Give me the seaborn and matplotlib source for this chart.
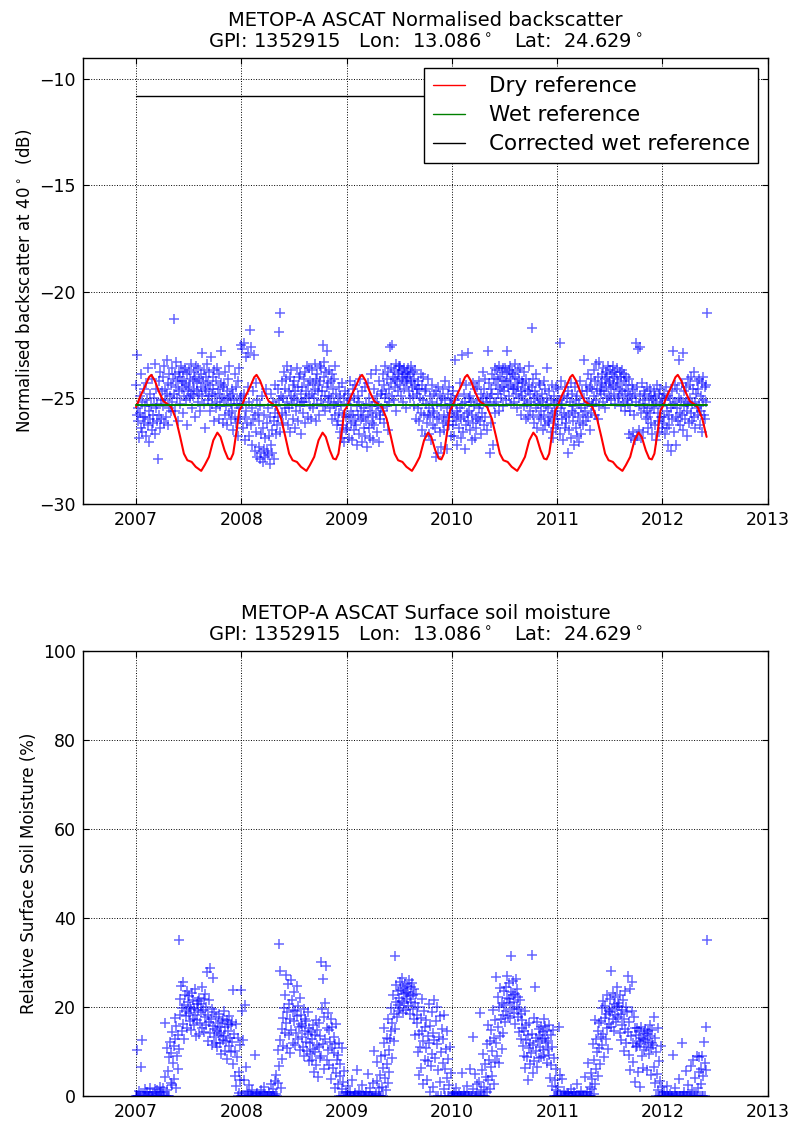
import matplotlib
matplotlib.use("Agg")
import matplotlib.pyplot as plt
import matplotlib.dates as mdates
import numpy as np
import pandas as pd
import seaborn as sns

# ---------------------------------------------------------------------------
# Station / grid point
# ---------------------------------------------------------------------------
gpi = 1352915
lon = 13.086
lat = 24.629

# ---------------------------------------------------------------------------
# Normalised backscatter at 40 deg (dB), one observation every second day
# ---------------------------------------------------------------------------
sigma40_2007 = [
    -24.4, -25.8, -23.0, -26.1, -25.5, -26.9, -24.9, -25.7, -26.4, -23.9, -25.2, -26.6, -25.9, -24.6, -26.2, -25.4,
    -25.9, -24.3, -26.8, -25.1, -26.3, -23.6, -25.6, -27.1, -24.8, -26.0, -25.4, -26.5, -24.1, -25.8,
    -26.2, -25.0, -23.4, -26.7, -25.5, -24.6, -26.1, -25.3, -27.9, -24.2, -25.8, -26.4, -23.8, -25.1, -26.0, -24.7,
    -25.4, -24.0, -26.2, -23.5, -25.1, -24.6, -25.9, -23.2, -24.8, -26.3, -24.3, -25.5, -23.9, -24.9, -25.6,
    -24.4, -23.6, -25.2, -24.1, -21.3, -24.8, -23.9, -25.6, -24.5, -23.3, -25.0, -24.2, -26.1, -23.8, -24.7,
    -24.0, -25.3, -23.5, -24.6, -24.2, -25.7, -23.8, -24.9, -24.3, -23.6, -25.1, -24.4, -26.3, -23.9, -24.7,
    -24.5, -23.7, -25.0, -24.1, -24.8, -23.4, -25.5, -24.2, -24.9, -23.8, -24.6, -25.9, -24.0, -23.5, -24.7,
    -24.3, -25.2, -23.6, -24.8, -24.1, -25.6, -23.9, -24.5, -22.9, -24.9, -24.2, -25.3, -23.7, -24.6, -26.4, -24.0,
    -24.7, -23.4, -25.1, -24.3, -24.9, -23.8, -25.6, -24.4, -23.1, -24.8, -25.3, -24.0, -24.6, -26.1, -23.7,
    -24.9, -25.5, -24.2, -23.6, -25.2, -24.6, -26.0, -23.9, -24.8, -25.4, -24.3, -22.8, -25.0, -24.5, -26.2,
    -25.1, -24.4, -25.8, -23.8, -25.4, -24.7, -26.3, -24.1, -25.0, -25.7, -23.5, -24.9, -26.0, -25.3, -24.6,
    -25.6, -24.8, -26.5, -25.1, -23.9, -25.9, -24.5, -26.2, -25.3, -24.2, -26.8, -25.5, -23.6, -25.0, -26.0, -24.9,
]
sigma40_2008 = [
    -22.5, -25.3, -22.7, -26.4, -24.8, -22.4, -25.9, -27.0, -23.1, -25.6, -26.2, -22.9, -24.5, -26.8, -25.2, -21.8,
    -26.3, -22.6, -25.5, -27.2, -24.7, -26.0, -23.0, -25.8, -27.5, -24.3, -26.6, -25.1, -27.8, -25.7,
    -27.3, -26.1, -27.9, -25.4, -27.6, -26.7, -24.9, -28.0, -26.4, -27.4, -25.8, -27.8, -26.9, -24.6, -27.5, -26.2,
    -27.7, -25.5, -26.8, -28.1, -25.9, -27.2, -24.8, -26.5, -27.6, -25.2, -26.1, -27.9, -25.7, -24.4, -26.7,
    -25.4, -26.3, -24.6, -25.9, -21.9, -25.1, -26.6, -21.0, -24.9, -25.7, -24.2, -26.2, -25.0, -23.8, -25.5,
    -24.6, -25.8, -24.1, -25.2, -23.5, -26.3, -24.7, -25.5, -24.0, -26.6, -24.9, -23.7, -25.3, -24.4, -26.0,
    -25.0, -24.2, -26.4, -24.7, -25.6, -23.6, -25.1, -24.5, -26.1, -24.0, -25.4, -23.9, -24.8, -26.7, -25.2,
    -24.5, -25.7, -24.1, -25.2, -23.8, -26.2, -24.7, -25.0, -23.5, -24.4, -25.9, -24.9, -23.6, -25.4, -24.2, -26.0,
    -24.8, -23.7, -25.5, -24.3, -25.0, -23.4, -24.6, -26.1, -24.1, -25.3, -23.9, -24.7, -25.8, -24.4, -23.5,
    -24.2, -25.1, -23.6, -24.7, -22.5, -25.4, -24.0, -23.3, -24.9, -25.6, -23.8, -24.5, -22.8, -25.2, -24.3,
    -24.9, -23.7, -25.5, -24.2, -25.0, -26.0, -23.9, -24.6, -25.3, -24.1, -25.8, -23.5, -24.8, -25.4, -26.3,
    -25.2, -26.1, -24.5, -25.7, -26.6, -24.9, -25.4, -26.9, -24.3, -25.8, -26.3, -25.0, -27.1, -24.7, -25.9, -26.5,
]
sigma40_2009 = [
    -25.3, -26.4, -24.8, -25.9, -26.9, -25.1, -24.2, -26.2, -25.6, -27.0, -24.6, -25.8, -26.5, -25.0, -26.1, -24.4,
    -26.3, -25.4, -27.2, -24.9, -25.8, -26.7, -25.2, -24.1, -26.0, -25.6, -27.1, -24.7, -25.9, -26.4,
    -25.5, -26.8, -24.5, -26.1, -25.3, -27.3, -25.8, -24.3, -26.4, -25.0, -26.9, -25.6, -23.9, -26.2, -25.4, -27.0,
    -25.9, -24.6, -26.3, -25.2, -23.7, -25.7, -26.6, -24.9, -25.4, -27.1, -24.2, -25.8, -26.0, -24.8, -25.5,
    -24.7, -25.6, -23.9, -24.4, -26.2, -25.0, -23.5, -24.8, -25.4, -24.1, -26.5, -23.8, -24.6, -25.2, -22.6,
    -24.3, -23.6, -24.9, -22.5, -24.0, -25.1, -23.7, -24.5, -24.1, -23.4, -25.6, -24.2, -23.9, -24.7, -23.5,
    -23.8, -24.4, -23.5, -24.9, -24.1, -23.7, -25.2, -24.0, -23.6, -24.6, -23.9, -24.3, -25.5, -23.8, -24.2,
    -24.0, -23.6, -24.7, -23.9, -25.0, -24.2, -23.5, -24.5, -23.8, -24.9, -24.1, -25.4, -23.7, -24.4, -26.0, -24.6,
    -24.8, -25.5, -24.2, -26.1, -24.6, -25.0, -23.9, -25.7, -24.4, -26.5, -25.1, -24.0, -25.8, -26.8, -24.7,
    -25.3, -24.6, -26.2, -25.8, -24.1, -25.5, -26.7, -24.9, -25.9, -27.0, -24.4, -25.2, -26.3, -25.6, -24.8,
    -25.7, -26.4, -24.7, -27.8, -25.3, -26.0, -24.5, -27.6, -25.9, -24.9, -26.6, -25.4, -27.3, -25.0, -26.2,
    -24.6, -25.8, -26.5, -25.1, -24.2, -26.1, -25.5, -27.4, -24.8, -25.9, -26.3, -24.5, -25.3, -26.8, -25.0, -25.7,
]
sigma40_2010 = [
    -25.4, -26.3, -24.7, -25.9, -26.8, -25.1, -23.2, -26.1, -25.6, -27.2, -24.9, -25.8, -26.4, -24.3, -25.5, -26.9,
    -26.0, -23.0, -25.3, -26.6, -24.8, -25.9, -27.4, -25.2, -24.4, -26.3, -25.7, -22.9, -26.1, -25.0,
    -25.6, -26.5, -24.9, -25.2, -27.0, -25.8, -24.3, -26.2, -25.4, -26.9, -24.6, -25.9, -26.4, -25.1, -24.5, -26.0,
    -25.5, -24.2, -26.1, -25.3, -26.7, -24.8, -25.7, -23.8, -25.0, -26.3, -24.6, -25.9, -24.1, -25.2, -26.5,
    -24.9, -22.8, -25.4, -24.3, -27.6, -25.0, -24.6, -26.2, -23.9, -24.8, -27.2, -25.3, -24.1, -23.6, -25.7,
    -24.4, -25.2, -23.7, -24.8, -24.1, -25.6, -23.5, -24.6, -24.0, -25.0, -23.8, -24.5, -25.4, -23.6, -24.2,
    -24.7, -23.6, -24.2, -25.1, -23.9, -22.8, -24.5, -23.7, -24.9, -24.1, -23.5, -25.3, -24.4, -23.8, -24.6,
    -23.9, -24.6, -25.2, -24.0, -23.4, -24.8, -24.3, -25.5, -23.7, -24.5, -24.1, -25.0, -23.6, -24.7, -25.8, -24.2,
    -24.9, -24.3, -25.4, -23.8, -25.1, -24.6, -26.0, -24.1, -25.3, -24.7, -25.9, -24.4, -23.5, -25.6, -24.8,
    -25.2, -24.5, -21.7, -25.8, -24.1, -26.2, -25.0, -24.7, -25.5, -23.9, -26.4, -24.9, -25.3, -24.3, -25.9,
    -25.1, -24.4, -26.0, -25.6, -24.8, -26.5, -25.2, -24.2, -25.8, -26.3, -24.6, -25.4, -23.6, -25.0, -26.1,
    -25.5, -26.2, -24.7, -25.9, -26.6, -25.1, -24.4, -25.7, -26.9, -25.3, -24.9, -26.0, -25.6, -24.5, -26.4, -25.2,
]
sigma40_2011 = [
    -25.8, -24.6, -26.3, -25.1, -22.4, -26.7, -25.5, -24.2, -26.0, -25.3, -27.0, -24.9, -25.7, -26.4, -24.5, -25.9,
    -26.2, -25.0, -27.6, -24.7, -25.8, -26.5, -25.2, -24.3, -26.9, -25.6, -24.8, -26.1, -25.4, -27.2,
    -25.7, -24.5, -26.4, -25.1, -26.8, -24.9, -25.9, -27.1, -25.3, -24.2, -26.2, -25.5, -26.7, -24.7, -25.8, -26.3,
    -25.0, -23.2, -25.6, -24.4, -26.1, -25.3, -24.7, -25.9, -23.9, -25.2, -26.5, -24.5, -25.7, -24.1, -25.4,
    -24.6, -25.3, -23.7, -24.9, -25.8, -24.2, -23.4, -25.1, -24.6, -26.0, -24.0, -23.3, -25.4, -24.7, -24.3,
    -24.8, -23.9, -24.4, -25.2, -23.6, -24.7, -24.1, -25.5, -23.8, -24.5, -24.0, -25.0, -23.5, -24.3, -24.9,
    -24.2, -23.7, -24.6, -25.1, -23.9, -24.4, -23.5, -24.8, -24.0, -25.3, -23.8, -24.5, -24.1, -23.6, -25.0,
    -24.3, -24.9, -23.8, -24.6, -25.4, -24.0, -23.7, -24.7, -25.2, -24.2, -23.9, -24.8, -25.6, -24.4, -24.0, -25.1,
    -24.7, -25.3, -24.1, -26.7, -24.9, -25.6, -26.9, -24.4, -25.0, -26.6, -24.6, -25.8, -27.0, -24.8, -25.2,
    -22.4, -26.8, -24.5, -22.7, -25.4, -26.5, -24.9, -22.6, -25.7, -26.9, -24.3, -25.1, -26.6, -25.5, -24.7,
    -25.3, -24.8, -26.0, -25.6, -24.5, -25.9, -26.4, -25.0, -24.6, -25.7, -26.2, -24.9, -25.4, -26.7, -25.1,
    -24.7, -25.5, -26.3, -24.9, -27.0, -25.2, -24.4, -26.1, -25.7, -24.8, -26.6, -25.3, -24.6, -25.9, -26.4, -25.0,
]
sigma40_2012 = [
    -25.4, -26.2, -24.8, -25.9, -26.7, -25.1, -24.5, -26.4, -25.6, -27.2, -24.9, -25.8, -26.3, -25.0, -27.5, -25.5,
    -24.7, -26.0, -25.3, -22.8, -26.6, -25.2, -24.4, -25.9, -27.2, -25.5, -24.6, -26.1, -25.0, -23.2, -25.7,
    -26.3, -25.1, -24.3, -25.8, -22.9, -26.5, -25.4, -24.7, -26.0, -25.2, -24.5, -26.8, -25.6, -24.1, -25.3, -26.2,
    -25.0, -24.4, -25.7, -24.0, -26.1, -25.3, -24.6, -25.9, -23.8, -25.2, -26.4, -24.8, -25.5, -24.2, -25.8,
    -24.6, -25.4, -24.1, -26.3, -24.9, -25.6, -24.3, -26.6, -25.1, -24.0, -25.8, -24.5, -26.0, -25.2, -24.4, -21.0,
]

# ---------------------------------------------------------------------------
# Relative surface soil moisture (%), same observation days
# ---------------------------------------------------------------------------
ssm_2007 = [
    0, 0, 10.4, 0, 0, 1.2, 0, 0, 6.6, 0, 0, 12.6, 0, 0, 0, 1.5,
    0, 0, 0, 0.8, 0, 0, 0, 0, 0, 1.9, 0, 0, 0, 0,
    0, 0, 1.6, 0, 0, 0, 1.3, 0, 0, 0, 0, 2.1, 0, 0, 0.9, 0,
    0, 1.8, 0, 0, 16.4, 4.2, 0, 10.8, 1.4, 0, 5.6, 8.7, 0, 12.1, 3.0,
    9.6, 2.4, 14.3, 7.5, 11.2, 3.8, 17.5, 12.7, 1.7, 15.8, 8.9, 13.6, 6.1, 10.5, 35.1,
    21.9, 18.3, 24.8, 14.6, 19.7, 25.6, 16.2, 20.4, 12.8, 22.7, 17.9, 19.1, 23.5, 15.3, 21.2,
    18.6, 22.4, 16.9, 20.1, 14.8, 19.5, 23.2, 17.4, 21.6, 15.9, 19.8, 24.1, 18.2, 13.4, 20.7,
    17.1, 21.3, 19.4, 13.9, 22.0, 16.5, 20.6, 18.8, 24.5, 15.2, 19.3, 21.8, 14.4, 17.7, 22.9, 16.0,
    20.0, 27.9, 18.1, 12.3, 16.7, 21.5, 28.7, 14.1, 17.2, 19.6, 11.5, 15.8, 26.5, 13.2, 18.9,
    15.1, 12.0, 17.8, 14.5, 10.9, 16.3, 13.7, 18.5, 11.8, 15.4, 9.5, 14.2, 16.9, 12.6, 17.4,
    13.5, 19.2, 10.2, 15.6, 12.4, 17.0, 8.3, 14.7, 16.1, 11.3, 18.0, 13.0, 15.9, 9.9, 16.6,
    12.2, 7.1, 23.8, 14.0, 4.6, 10.1, 16.2, 2.3, 8.8, 0, 13.1, 5.4, 0.6, 11.4, 3.5, 0,
]
ssm_2008 = [
    23.8, 0, 19.2, 12.6, 0, 3.6, 20.5, 0, 6.6, 0, 1.1, 0, 0, 2.5, 0, 0,
    0, 0, 0, 1.4, 0, 0, 0, 9.2, 0, 0, 0, 0.7, 0, 0,
    0, 0, 0, 0, 1.3, 0, 0, 0, 0, 0, 2.0, 0, 0, 0, 0, 0,
    0, 0, 0.9, 0, 0, 0, 2.8, 0, 0, 1.6, 0, 0, 3.4, 0, 0.5,
    4.8, 0, 2.9, 10.3, 34.2, 6.7, 28.0, 12.5, 1.9, 15.0, 8.4, 17.6, 11.2, 19.8, 14.1,
    22.6, 16.3, 27.3, 10.7, 18.9, 25.1, 13.8, 20.7, 9.6, 17.2, 26.0, 14.9, 21.5, 12.0, 19.4,
    16.8, 23.4, 11.5, 19.1, 14.2, 24.7, 17.9, 12.8, 20.3, 15.5, 22.1, 10.4, 18.3, 16.1, 13.3,
    15.7, 11.1, 19.6, 8.9, 14.6, 17.4, 12.2, 16.9, 10.0, 13.9, 18.8, 7.8, 15.2, 11.9, 9.4, 14.4,
    12.7, 8.1, 15.9, 10.6, 5.3, 13.6, 9.8, 17.1, 6.9, 11.4, 14.8, 4.2, 10.9, 16.4, 8.6,
    13.4, 30.0, 9.1, 19.5, 26.4, 11.7, 6.0, 17.8, 21.0, 12.9, 29.2, 8.2, 15.3, 18.6, 10.3,
    14.9, 7.0, 12.1, 17.3, 3.9, 10.8, 15.6, 6.4, 13.2, 9.7, 1.8, 11.6, 16.2, 5.1, 8.0,
    9.3, 2.6, 12.0, 0, 4.4, 7.3, 0, 1.5, 10.7, 0, 3.1, 0, 5.7, 0, 0, 1.0,
]
ssm_2009 = [
    0, 0, 2.2, 0, 0, 0, 1.0, 0, 0, 3.7, 0, 0, 0, 0, 0.6, 0,
    0, 5.8, 0, 0, 0, 1.2, 0, 0, 0, 0, 2.4, 0, 0, 0,
    0, 0, 0, 0.8, 0, 0, 5.0, 0, 0, 0, 1.7, 0, 0, 0, 0, 2.9,
    0, 0, 10.1, 0, 0.4, 0, 3.3, 7.6, 0, 0, 1.8, 0, 4.7, 0, 8.9,
    2.1, 6.4, 0, 11.8, 15.2, 4.0, 9.3, 1.3, 13.1, 7.2, 3.0, 17.4, 10.4, 5.5, 12.7,
    14.5, 19.7, 8.6, 16.3, 22.8, 12.4, 18.5, 31.5, 15.1, 21.2, 24.9, 17.7, 20.4, 23.6, 19.0,
    22.1, 25.7, 19.8, 23.9, 21.4, 26.6, 18.7, 24.3, 22.9, 20.8, 25.2, 23.1, 19.3, 24.8, 21.7,
    23.4, 20.2, 26.1, 22.4, 18.4, 24.6, 21.1, 25.5, 19.6, 22.6, 17.3, 24.0, 20.9, 13.7, 23.0, 18.1,
    16.5, 9.8, 19.9, 4.8, 13.9, 11.0, 17.6, 6.2, 21.7, 14.6, 2.7, 12.3, 19.2, 8.1, 15.4,
    10.7, 17.0, 3.6, 13.5, 7.9, 20.6, 11.9, 0.9, 15.8, 6.8, 18.9, 9.4, 2.0, 14.2, 12.5,
    21.5, 8.5, 16.8, 0, 11.6, 20.0, 5.9, 0, 13.3, 17.9, 3.2, 9.9, 0, 15.0, 7.4,
    12.8, 1.6, 18.2, 6.0, 0, 10.5, 4.1, 14.7, 0, 8.3, 2.5, 0, 11.1, 0, 5.2, 0,
]
ssm_2010 = [
    0, 0, 0, 0.7, 0, 0, 0, 1.9, 0, 0, 0, 0, 0.5, 0, 0, 0,
    0, 0, 5.2, 0, 0, 1.0, 0, 0, 0, 0, 2.3, 0, 0, 0,
    0, 0, 6.1, 0, 0, 0, 1.5, 13.3, 0, 0, 4.9, 0, 0, 2.6, 0, 0,
    0, 3.1, 0, 18.6, 0, 1.4, 5.8, 0, 9.5, 2.0, 0, 7.2, 0, 4.3, 11.6,
    0.8, 16.0, 3.7, 8.0, 12.4, 1.6, 6.5, 14.8, 10.1, 4.5, 19.3, 2.8, 13.0, 7.7, 17.1,
    11.8, 26.8, 9.1, 22.3, 15.6, 7.4, 19.9, 13.5, 24.2, 17.3, 10.6, 21.0, 14.1, 18.2, 23.7,
    20.5, 16.6, 24.5, 19.2, 22.0, 27.0, 18.0, 21.8, 25.3, 17.5, 20.8, 31.5, 23.3, 19.6, 22.6,
    25.8, 21.2, 18.7, 23.0, 16.2, 26.3, 20.1, 24.0, 17.8, 22.2, 14.4, 19.5, 21.6, 12.9, 18.4, 15.3,
    17.0, 11.3, 14.7, 9.0, 19.0, 6.3, 12.6, 15.9, 8.7, 13.8, 3.5, 10.8, 16.4, 7.1, 12.0,
    9.6, 31.7, 14.0, 5.2, 11.5, 17.5, 7.9, 24.6, 13.1, 10.2, 16.7, 6.6, 12.3, 15.1, 8.5,
    13.7, 11.0, 15.4, 8.8, 12.7, 14.3, 10.3, 17.2, 9.0, 13.0, 15.8, 11.9, 7.5, 14.6, 10.6,
    12.3, 16.0, 9.3, 4.1, 13.6, 7.0, 11.1, 2.2, 14.9, 0, 8.6, 3.6, 0, 6.1, 1.3, 0,
]
ssm_2011 = [
    0, 2.0, 0, 15.6, 0, 4.7, 0, 0, 3.8, 0, 0, 1.1, 0, 0, 0, 0,
    0, 0, 0.6, 0, 0, 0, 0, 1.5, 0, 0, 0, 0, 0, 0.9,
    0, 0, 0, 0, 0, 2.7, 0, 0, 0, 0, 0, 1.2, 0, 0, 0, 0,
    0, 0, 4.3, 0, 0, 0.8, 0, 7.4, 0, 0, 2.1, 0, 5.2, 0, 1.6,
    3.9, 11.7, 0.5, 8.2, 17.0, 2.6, 12.8, 6.0, 9.8, 14.6, 4.4, 16.3, 10.7, 7.3, 13.2,
    16.8, 11.4, 19.7, 14.0, 21.4, 8.7, 17.6, 20.2, 12.9, 18.5, 15.3, 22.7, 10.5, 19.2, 16.1,
    18.9, 21.8, 15.6, 28.2, 19.6, 17.3, 23.1, 14.5, 20.6, 18.1, 22.2, 16.7, 24.4, 19.9, 21.0,
    17.7, 20.3, 14.2, 22.6, 18.4, 12.5, 19.3, 16.0, 21.5, 10.1, 17.2, 23.6, 15.0, 20.0, 11.8, 18.8,
    14.4, 26.9, 9.2, 16.6, 24.1, 5.8, 13.4, 19.0, 25.7, 7.6, 12.0, 17.8, 3.1, 15.2, 10.9,
    13.8, 11.2, 15.3, 5.5, 12.4, 14.7, 2.0, 11.7, 13.1, 15.6, 9.0, 12.9, 6.4, 14.1, 10.4,
    12.6, 15.0, 11.0, 13.9, 5.8, 14.5, 12.2, 9.5, 16.0, 13.4, 10.7, 4.7, 12.0, 14.8, 11.5,
    17.8, 6.6, 13.0, 2.9, 9.9, 0, 5.0, 15.2, 1.4, 0, 7.8, 3.3, 0, 11.3, 0, 2.0,
]
ssm_2012 = [
    0, 0, 0.8, 0, 0, 0, 0, 2.2, 0, 0, 0, 0, 0, 0.5, 0, 0,
    0, 0, 0, 9.2, 0, 0, 1.7, 0, 0, 0, 0, 0, 3.9, 0, 0,
    0, 0, 11.8, 0, 0, 0, 0.9, 0, 0, 5.6, 0, 0, 0, 0, 2.4, 0,
    0, 0, 6.8, 0, 1.3, 0, 8.2, 0, 0, 4.1, 0, 0, 9.0, 0, 1.9,
    0, 5.3, 8.8, 0, 2.8, 6.1, 0, 9.1, 4.4, 0, 12.2, 7.5, 0, 15.6, 5.9, 35.1,
]

# ---------------------------------------------------------------------------
# Reference values (dB)
# ---------------------------------------------------------------------------
# dry reference: seasonal climatology, day of year -> dB
dry_doy = [0, 16, 30, 45, 53, 65, 80, 95, 111, 122, 138, 153, 166, 178,
           193, 207, 226, 238, 253, 268, 282, 293, 307, 319, 328, 337, 349, 358]
dry_db = [-25.44, -24.89, -24.50, -24.03, -23.92, -24.19, -24.73, -25.16,
          -25.31, -25.44, -25.98, -26.84, -27.63, -27.94, -28.02, -28.25,
          -28.44, -28.17, -27.78, -27.00, -26.64, -26.84, -27.47, -27.86,
          -27.90, -27.63, -26.53, -25.59]
wet_reference = -25.33
corrected_wet_reference = -10.78

years = [2007, 2008, 2009, 2010, 2011, 2012]
sigma_by_year = [sigma40_2007, sigma40_2008, sigma40_2009,
                 sigma40_2010, sigma40_2011, sigma40_2012]
ssm_by_year = [ssm_2007, ssm_2008, ssm_2009, ssm_2010, ssm_2011, ssm_2012]
period_start = pd.Timestamp("2007-01-01")
period_end = pd.Timestamp("2012-06-03")


def obs_dates(year, values):
    return pd.date_range(f"{year}-01-01", periods=len(values), freq="2D")


sigma_df = pd.concat(
    [pd.DataFrame({"date": obs_dates(y, v), "sigma40": v})
     for y, v in zip(years, sigma_by_year)], ignore_index=True)
ssm_df = pd.concat(
    [pd.DataFrame({"date": obs_dates(y, v), "ssm": v})
     for y, v in zip(years, ssm_by_year)], ignore_index=True)

dry_rows = []
for y in years:
    for d, v in zip(dry_doy, dry_db):
        t = pd.Timestamp(f"{y}-01-01") + pd.Timedelta(days=d)
        if t <= period_end:
            dry_rows.append((t, v))
dry_df = pd.DataFrame(dry_rows, columns=["date", "dry"])

wet_df = pd.DataFrame({"date": [period_start, period_end],
                       "wet": [wet_reference, wet_reference],
                       "wet_corr": [corrected_wet_reference, corrected_wet_reference]})

# ---------------------------------------------------------------------------
# Styling
# ---------------------------------------------------------------------------
sns.set_style("ticks")
plt.rcParams.update({
    "font.family": ["DejaVu Sans"],
    "axes.edgecolor": "black",
    "axes.linewidth": 1.0,
    "xtick.direction": "in",
    "ytick.direction": "in",
    "xtick.top": True,
    "ytick.right": True,
    "xtick.major.size": 4.5,
    "ytick.major.size": 4.5,
    "xtick.major.pad": 5,
    "ytick.major.pad": 5,
    "xtick.labelsize": 12.5,
    "ytick.labelsize": 12.5,
    "xtick.color": "black",
    "ytick.color": "black",
    "text.color": "black",
    "axes.labelcolor": "black",
})

fig = plt.figure(figsize=(7.92, 11.21), dpi=100)
fig.patch.set_facecolor("white")
ax1 = fig.add_axes([0.1048, 0.5504, 0.8649, 0.3979])
ax2 = fig.add_axes([0.1048, 0.0223, 0.8649, 0.3970])

subtitle = (f"GPI: {gpi}   Lon:  {lon:.3f}$^\\circ$   Lat:  {lat:.3f}$^\\circ$")

scatter_kw = dict(marker="+", color="blue", s=42, linewidth=1.1, alpha=0.6,
                  legend=False, zorder=2)

# --- backscatter panel -----------------------------------------------------
sns.scatterplot(data=sigma_df, x="date", y="sigma40", ax=ax1, **scatter_kw)
sns.lineplot(data=dry_df, x="date", y="dry", ax=ax1, color="red",
             linewidth=1.5, label="Dry reference", zorder=3)
sns.lineplot(data=wet_df, x="date", y="wet", ax=ax1, color="green",
             linewidth=1.5, label="Wet reference", zorder=3)
sns.lineplot(data=wet_df, x="date", y="wet_corr", ax=ax1, color="black",
             linewidth=1.0, label="Corrected wet reference", zorder=3)
ax1.set_ylim(-30, -9)
ax1.set_yticks([-30, -25, -20, -15, -10])
ax1.set_ylabel("Normalised backscatter at 40$^\\circ$  (dB)", fontsize=12)
ax1.set_title("METOP-A ASCAT Normalised backscatter\n" + subtitle,
              fontsize=14, pad=7)
leg = ax1.legend(loc="upper right", fontsize=15.5, frameon=True,
                 fancybox=False, framealpha=1, edgecolor="black",
                 handlelength=1.5, handletextpad=1.1, borderpad=0.4,
                 labelspacing=0.42, borderaxespad=0.45)
leg.get_frame().set_linewidth(1.0)
for line in leg.get_lines():
    line.set_linewidth(1.0)

# --- soil moisture panel ---------------------------------------------------
sns.scatterplot(data=ssm_df, x="date", y="ssm", ax=ax2, **scatter_kw)
ax2.set_ylim(0, 100)
ax2.set_yticks([0, 20, 40, 60, 80, 100])
ax2.set_ylabel("Relative Surface Soil Moisture (%)", fontsize=12)
ax2.set_title("METOP-A ASCAT Surface soil moisture\n" + subtitle,
              fontsize=14, pad=7)

for ax in (ax1, ax2):
    ax.set_xlim(pd.Timestamp("2006-07-01"), pd.Timestamp("2013-01-01"))
    ax.xaxis.set_major_locator(mdates.YearLocator())
    ax.xaxis.set_major_formatter(mdates.DateFormatter("%Y"))
    ax.set_xlabel("")
    ax.grid(True, color="black", linestyle=":", linewidth=0.7)
    ax.set_axisbelow(True)
    ax.set_facecolor("white")
    for side in ("top", "right", "left", "bottom"):
        ax.spines[side].set_visible(True)
        ax.spines[side].set_color("black")

fig.savefig("out.png", dpi=100, facecolor="white")
